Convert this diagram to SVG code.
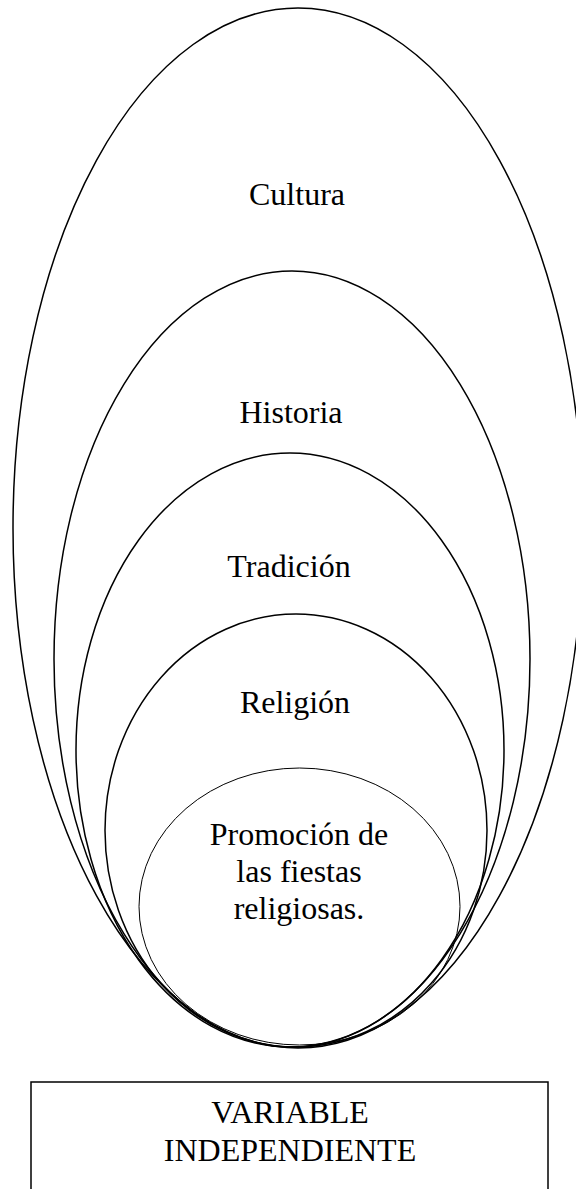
<svg xmlns="http://www.w3.org/2000/svg" width="576" height="1189" viewBox="0 0 576 1189">
<style>
.e{fill:none;stroke:#000;stroke-width:1.5}
.t{font-family:"Liberation Serif","Times New Roman",serif;font-size:32px;fill:#000;text-anchor:middle}
</style>
<rect width="576" height="1189" fill="#fff"/>
<g id="cultura"><ellipse class="e" cx="298" cy="528" rx="285" ry="520"/><text class="t" x="297" y="205">Cultura</text></g>
<g id="historia"><ellipse class="e" cx="292" cy="659" rx="238" ry="388"/><text class="t" x="291" y="423">Historia</text></g>
<g id="tradicion"><ellipse class="e" cx="290" cy="750" rx="214" ry="297"/><text class="t" x="289" y="577">Tradición</text></g>
<g id="religion"><ellipse class="e" cx="296" cy="830.5" rx="191" ry="216.5"/><text class="t" x="295" y="713">Religión</text></g>
<g id="promocion"><ellipse class="e" style="stroke-width:1" cx="299.5" cy="906.5" rx="160.5" ry="138.5"/><text class="t" x="299" y="845">Promoción de</text><text class="t" x="299" y="882">las fiestas</text><text class="t" x="299" y="919">religiosas.</text></g>
<g id="variable"><rect x="31" y="1082" width="517" height="120" fill="none" stroke="#000" stroke-width="1.5"/><text class="t" x="290" y="1123">VARIABLE</text><text class="t" x="290" y="1161">INDEPENDIENTE</text></g>
<g id="connectors"></g>
</svg>
